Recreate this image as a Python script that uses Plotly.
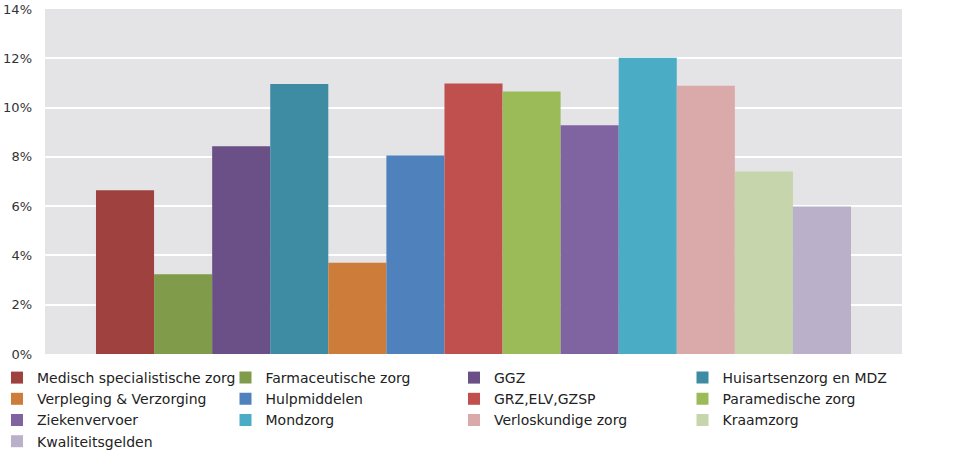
import plotly.graph_objects as go

# categories and their shares
categories = ["Medisch specialistische zorg", "Farmaceutische zorg", "GGZ",
              "Huisartsenzorg en MDZ", "Verpleging & Verzorging", "Hulpmiddelen",
              "GRZ,ELV,GZSP", "Paramedische zorg", "Ziekenvervoer", "Mondzorg",
              "Verloskundige zorg", "Kraamzorg", "Kwaliteitsgelden"]
values = [0.0665, 0.0324, 0.0843, 0.1096, 0.0370, 0.0806, 0.1098,
          0.1065, 0.0928, 0.1202, 0.1089, 0.0741, 0.0599]
colors = ["#9E413F", "#809B4A", "#6A5086", "#3D8CA4", "#CD7C39", "#4F81BD",
          "#C0504D", "#9BBB59", "#8064A2", "#4BACC6", "#DAA9A9", "#C6D5AC",
          "#BAB0C9"]

FONT = "DejaVu Sans"
W, H = 960, 451
ML, MR, MT, MB = 45, 58, 9, 97
plot_w = W - ML - MR
plot_h = H - MT - MB

fig = go.Figure()
legend_ids = ["legend", "legend2", "legend3", "legend4"]
for i, (name, val, col) in enumerate(zip(categories, values, colors)):
    fig.add_trace(go.Bar(x=[""], y=[val], name=name, marker_color=col,
                         marker_line_width=0, legend=legend_ids[i % 4]))

# one legend per column, 4 columns side by side
col_left = -3
col_step = 228.5
legend_y = -(362 - (MT + plot_h)) / plot_h
legends = {}
for k, lid in enumerate(legend_ids):
    legends[lid] = dict(orientation="v", x=(col_left + k * col_step - ML) / plot_w,
                        xanchor="left", y=legend_y, yanchor="top",
                        font=dict(family=FONT, size=14, color="#222222"),
                        bgcolor="rgba(0,0,0,0)", itemwidth=30)

fig.update_layout(
    width=W, height=H,
    margin=dict(l=ML, r=MR, t=MT, b=MB, autoexpand=False),
    paper_bgcolor="white",
    plot_bgcolor="#E4E4E6",
    barmode="group",
    bargap=0.119,
    bargroupgap=0,
    font=dict(family=FONT, size=13, color="#333333"),
    xaxis=dict(showticklabels=False, showgrid=False, zeroline=False,
               range=[-0.5, 0.5]),
    yaxis=dict(range=[0, 0.14], dtick=0.02, tickformat=".0%",
               gridcolor="white", gridwidth=1.5, zeroline=False,
               ticks="", ticklabelstandoff=12,
               tickfont=dict(family=FONT, size=13, color="#333333")),
    **legends,
)

# drop the default 8px page margin so the figure fills the window
fig.write_html("out.html", config={"displayModeBar": False},
               post_script="document.body.style.margin='0';")
